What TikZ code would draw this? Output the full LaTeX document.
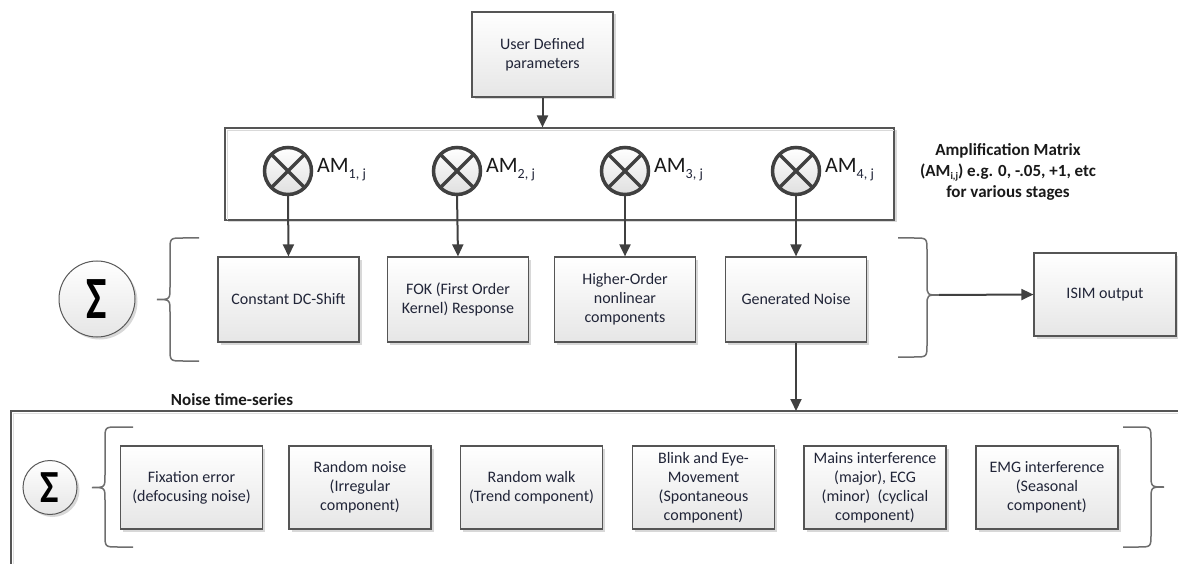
\documentclass[tikz,border=0pt]{standalone}
\usepackage{fontspec}
\setmainfont{Carlito}
\usetikzlibrary{arrows.meta,shadows,calc}
\definecolor{edge}{RGB}{85,85,85}
\definecolor{wire}{RGB}{64,64,64}
\definecolor{ink}{RGB}{33,37,56}
\definecolor{boxlow}{RGB}{230,230,230}
\definecolor{bracecol}{RGB}{110,110,110}
\begin{document}
\begin{tikzpicture}[x=1pt,y=-1pt,
  softshadow/.style={drop shadow={shadow xshift=2.5pt,shadow yshift=-2.5pt,fill=black!30,opacity=0.5}},
  stage/.style={rectangle,draw=edge,line width=1.2pt,top color=white,bottom color=boxlow,
    minimum width=141pt,minimum height=85pt,align=center,text=ink,inner sep=2pt,
    font=\fontsize{16}{19}\selectfont,softshadow},
  noisebox/.style={stage,minimum width=142pt,minimum height=83pt},
  mult/.style={circle,draw=wire,line width=3.5pt,minimum size=47pt,inner sep=0pt,outer sep=0pt,
    top color=white,bottom color=gray!25},
  crossline/.style={draw=wire,line width=3.5pt},
  sumnode/.style={circle,draw=gray!70!black,line width=1pt,inner sep=0pt,outer sep=0pt,
    top color=white,bottom color=gray!20,softshadow},
  wireline/.style={draw=wire,line width=2pt},
  flow/.style={wireline,-{Triangle[length=12pt,width=11pt]}},
  bracepath/.style={draw=bracecol,line width=1.5pt},
  amlabel/.style={anchor=base west,inner sep=0pt,text=black!90,font=\fontsize{22}{22}\selectfont},
  note/.style={align=center,text=black!90,font=\fontsize{17}{21}\selectfont\bfseries}
]
\useasboundingbox (0,0) rectangle (1178,564);

% source of the parameters
\node[stage] (ud) at (542.5,54.5) {User Defined\\parameters};

% amplification frame with the four multipliers
\node[rectangle,draw=edge,line width=1.2pt,fill=white,minimum width=669pt,minimum height=92pt,
  inner sep=0pt,softshadow] (amframe) at (559.5,174) {};
\draw[gray!30,line width=1.2pt] ($(amframe.south west)+(3,-1)$) -- ($(amframe.north west)+(3,3)$)
  -- ($(amframe.north east)+(-1,3)$);
\draw[flow] (ud.south) -- (ud.south |- amframe.north);

\foreach \i/\x in {1/288,2/457,3/625,4/796}{
  \node[mult] (m\i) at (\x,171) {};
  \path[crossline] (m\i.north west) -- (m\i.south east) (m\i.north east) -- (m\i.south west);
  \node[amlabel] (am\i) at (\x+29,173) {AM\raisebox{-6pt}{\fontsize{14}{14}\selectfont\color{ink}\i, j}};
}

\node[note] (ampnote) at (1008,172) {Amplification Matrix\\
  (AM\raisebox{-3pt}{\fontsize{10}{10}\selectfont i,j}) e.g. 0, -.05, +1, etc\\for various stages};

% output stages
\node[stage] (b1) at (288.5,299.5) {Constant DC-Shift};
\node[stage] (b2) at (458,299.5) {FOK (First Order\\Kernel) Response};
\node[stage] (b3) at (625,299.5) {Higher-Order\\nonlinear\\components};
\node[stage] (b4) at (796,299.5) {Generated Noise};
\foreach \i in {1,...,4}{ \draw[flow] (m\i.south) -- (b\i.north); }

\node[sumnode,minimum size=76pt] (sum1) at (97,299) {\scalebox{0.72}[1]{\fontsize{60}{60}\selectfont\bfseries Σ}};

\draw[bracepath] (199,238) -- (183,238) .. controls (170,238) .. (170,251) -- (170,287)
  .. controls (170,299.5) .. (157,299.5) .. controls (170,299.5) .. (170,312) -- (170,348)
  .. controls (170,361) .. (183,361) -- (199,361);
\draw[bracepath] (898,238) -- (914,238) .. controls (927,238) .. (927,251) -- (927,284)
  .. controls (927,295) .. (939,295) .. controls (927,295) .. (927,306) -- (927,344)
  .. controls (927,357) .. (914,357) -- (898,357);
\coordinate (bracetip) at (939,295);

\node[stage,minimum width=142pt,minimum height=83pt] (isim) at (1105,294.5) {ISIM output};
\draw[flow] (bracetip) -- (isim.west);

% noise time-series container
\node[anchor=center,text=black!90,font=\fontsize{17}{17}\selectfont\bfseries] (noiselabel) at (232,400) {Noise time-series};
\draw[gray!25,line width=1.5pt] (1178,413.5) -- (13.5,413.5) -- (13.5,564);
\draw[edge,line width=1.2pt] (1178,411) -- (11,411) -- (11,564);
\coordinate (noisetop) at (796,411);
\draw[flow] (b4.south) -- (noisetop);

\node[noisebox] (n1) at (191.5,487.5) {Fixation error\\(defocusing noise)};
\node[noisebox] (n2) at (360,487.5) {Random noise\\(Irregular\\component)};
\node[noisebox] (n3) at (531.5,487.5) {Random walk\\(Trend component)};
\node[noisebox] (n4) at (703.5,487.5) {Blink and Eye-\\Movement\\(Spontaneous\\component)};
\node[noisebox] (n5) at (875,487.5) {Mains interference\\(major), ECG\\(minor)\ \ (cyclical\\component)};
\node[noisebox] (n6) at (1047,487.5) {EMG interference\\(Seasonal\\component)};

\node[sumnode,minimum size=54pt] (sum2) at (50,487.5) {\scalebox{0.85}[1]{\fontsize{46}{46}\selectfont\bfseries Σ}};

\draw[bracepath] (133,427) -- (118,427) .. controls (105,427) .. (105,440) -- (105,475)
  .. controls (105,487.5) .. (92,487.5) .. controls (105,487.5) .. (105,500) -- (105,534)
  .. controls (105,547) .. (118,547) -- (133,547);
\draw[bracepath] (1123,427) -- (1138,427) .. controls (1151,427) .. (1151,440) -- (1151,474)
  .. controls (1151,487) .. (1164,487) .. controls (1151,487) .. (1151,500) -- (1151,534)
  .. controls (1151,547) .. (1138,547) -- (1123,547);
\end{tikzpicture}
\end{document}
